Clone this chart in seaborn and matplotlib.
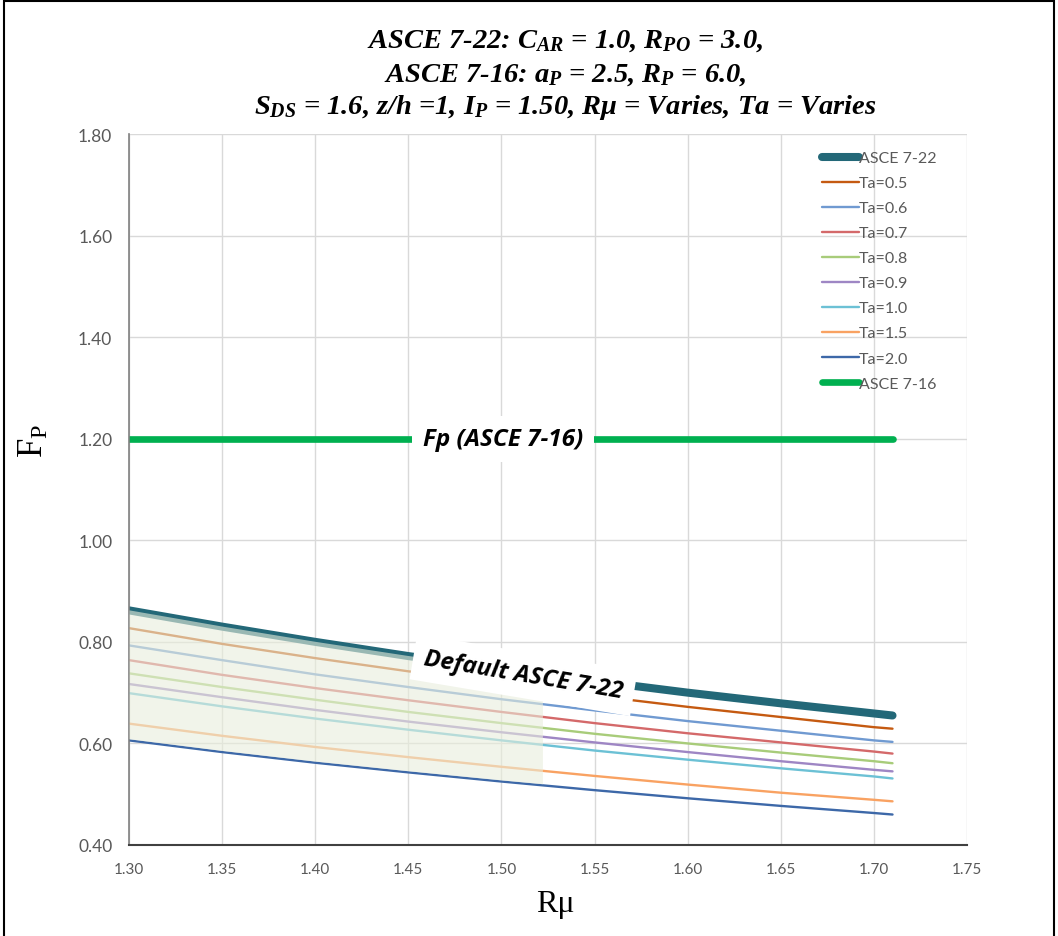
import numpy as np
import pandas as pd
import matplotlib
matplotlib.use("Agg")
import matplotlib.pyplot as plt
import seaborn as sns
from matplotlib.patches import Rectangle

# ---------------- data ----------------
rmu = [1.30, 1.35, 1.40, 1.45, 1.50, 1.55, 1.60, 1.65, 1.70, 1.71]
asce722 = [0.862, 0.830, 0.800, 0.772, 0.747, 0.723, 0.700, 0.679, 0.659, 0.655]
ta05 = [0.827, 0.796, 0.768, 0.742, 0.717, 0.694, 0.672, 0.652, 0.632, 0.629]
ta06 = [0.793, 0.764, 0.736, 0.711, 0.687, 0.665, 0.644, 0.625, 0.606, 0.603]
ta07 = [0.764, 0.735, 0.709, 0.685, 0.662, 0.640, 0.620, 0.602, 0.584, 0.580]
ta08 = [0.738, 0.711, 0.686, 0.662, 0.640, 0.619, 0.600, 0.582, 0.565, 0.561]
ta09 = [0.717, 0.691, 0.666, 0.643, 0.622, 0.602, 0.583, 0.565, 0.548, 0.545]
ta10 = [0.699, 0.673, 0.649, 0.627, 0.606, 0.586, 0.568, 0.551, 0.535, 0.531]
ta15 = [0.639, 0.615, 0.593, 0.573, 0.554, 0.536, 0.519, 0.503, 0.489, 0.486]
ta20 = [0.606, 0.583, 0.562, 0.543, 0.525, 0.508, 0.492, 0.477, 0.463, 0.460]
asce716 = [1.20, 1.20, 1.20, 1.20, 1.20, 1.20, 1.20, 1.20, 1.20, 1.20]

series_names = ["ASCE 7-22", "Ta=0.5", "Ta=0.6", "Ta=0.7", "Ta=0.8",
                "Ta=0.9", "Ta=1.0", "Ta=1.5", "Ta=2.0", "ASCE 7-16"]
series_values = [asce722, ta05, ta06, ta07, ta08, ta09, ta10, ta15, ta20, asce716]

x_ticks = [1.30, 1.35, 1.40, 1.45, 1.50, 1.55, 1.60, 1.65, 1.70, 1.75]
y_ticks = [0.40, 0.60, 0.80, 1.00, 1.20, 1.40, 1.60, 1.80]

shade_end = 1.522

# ---------------- styles ----------------
colors = ["#236878", "#c55a11", "#709ad1", "#d4696a", "#a8cc7a",
          "#9e86c4", "#6cc1d5", "#f9a262", "#3d68a8", "#00b050"]
widths = [5.8, 1.7, 1.7, 1.7, 1.7, 1.7, 1.7, 1.7, 1.7, 4.8]

df = pd.DataFrame({
    "Rmu": np.tile(rmu, len(series_names)),
    "Fp": np.concatenate(series_values),
    "series": np.repeat(series_names, len(rmu)),
})

sns.set_theme(style="white")
plt.rcParams["font.family"] = ["Lato", "DejaVu Sans"]
plt.rcParams["mathtext.fontset"] = "custom"
plt.rcParams["mathtext.it"] = "Liberation Serif:italic:bold"
plt.rcParams["mathtext.rm"] = "Liberation Serif:italic:bold"
plt.rcParams["mathtext.bf"] = "Liberation Serif:italic:bold"
plt.rcParams["mathtext.sf"] = "Liberation Serif"

W, H = 1058, 937
fig = plt.figure(figsize=(W / 100, H / 100), dpi=100)
fig.patch.set_facecolor("white")
ax = fig.add_axes([129 / W, 1 - 846 / H, (967 - 129) / W, (846 - 135) / H])

for name, col, lw in zip(series_names, colors, widths):
    sub = df[df["series"] == name]
    sns.lineplot(data=sub, x="Rmu", y="Fp", color=col, linewidth=lw,
                 label=name, ax=ax, solid_capstyle="round", zorder=2)

# translucent shaded band over the low-Rmu region
sx = np.array([1.30, 1.35, 1.40, 1.45, 1.50, shade_end])
lo = np.interp(sx, rmu, ta20) + 0.003
hi = np.interp(sx, rmu, asce722) + 0.001
ax.fill_between(sx, lo, hi, color="#e9eedc", alpha=0.6, lw=0, zorder=3)

ax.set_xlim(1.30, 1.75)
ax.set_ylim(0.40, 1.80)
ax.set_xticks(x_ticks)
ax.set_xticklabels([f"{v:.2f}" for v in x_ticks])
ax.set_yticks(y_ticks)
ax.set_yticklabels([f"{v:.2f}" for v in y_ticks])
ax.tick_params(axis="both", length=0, labelcolor="#595959")
ax.tick_params(axis="x", pad=12, labelsize=11)
ax.tick_params(axis="y", pad=12, labelsize=12.5)
ax.grid(True, color="#d9d9d9", linewidth=1)
ax.set_axisbelow(True)
for s in ["top", "right"]:
    ax.spines[s].set_visible(False)
ax.spines["left"].set_color("#808080")
ax.spines["left"].set_linewidth(1.2)
ax.spines["bottom"].set_color("#404040")
ax.spines["bottom"].set_linewidth(1.5)
ax.set_xlabel("")
ax.set_ylabel("")

leg = ax.legend(loc="upper left", bbox_to_anchor=((822 - 129) / 838, (846 - 152) / 711),
                frameon=False, fontsize=11.5, labelspacing=0.68, handlelength=2.3,
                handletextpad=0.0, labelcolor="#595959", borderaxespad=0,
                borderpad=0)

# annotations
ax.text(1.5009, 1.20, "Fp (ASCE 7-16)", ha="center", va="center",
        fontsize=17.5, fontweight="bold", fontstyle="italic", family="Open Sans",
        color="black", zorder=6,
        bbox=dict(boxstyle="square,pad=0.45", fc="white", ec="none"))
ax.text(1.5119, 0.7346, "Default ASCE 7-22", ha="center", va="center",
        rotation=-9.5, rotation_mode="anchor", fontsize=17.5, fontweight="bold",
        family="Open Sans", fontstyle="italic", color="black", zorder=6,
        bbox=dict(boxstyle="square,pad=0.45", fc="white", ec="none"))

# titles
tx = 565 / W
tkw = dict(ha="center", va="center", fontsize=20.5, fontweight="bold",
           fontstyle="italic", family="Liberation Serif", color="black")
fig.text(tx, 1 - 41 / H, r"ASCE 7-22: $C_{AR}$ = 1.0, $R_{PO}$ = 3.0,", **tkw)
fig.text(tx, 1 - 75 / H, r"ASCE 7-16: $a_{P}$ = 2.5, $R_{P}$ = 6.0,", **tkw)
fig.text(tx, 1 - 107 / H,
         r"$S_{DS}$ = 1.6, z/h =1, $I_{P}$ = 1.50, Rμ = Varies, Ta = Varies", **tkw)

# axis labels
fig.text(33 / W, 1 - 441 / H, r"$\mathsf{F_P}$", rotation=90, ha="center",
         va="center", fontsize=25, color="black")
fig.text(555 / W, 1 - 905 / H, "Rμ", ha="center", va="center", fontsize=23,
         family="Liberation Serif", color="black")

# outer border
fig.add_artist(Rectangle((4 / W, -0.01), (1054 - 4) / W, 1.01 - 1.5 / H,
                         transform=fig.transFigure, fill=False,
                         edgecolor="black", linewidth=1.5))

fig.savefig("out.png", dpi=100, facecolor="white")
